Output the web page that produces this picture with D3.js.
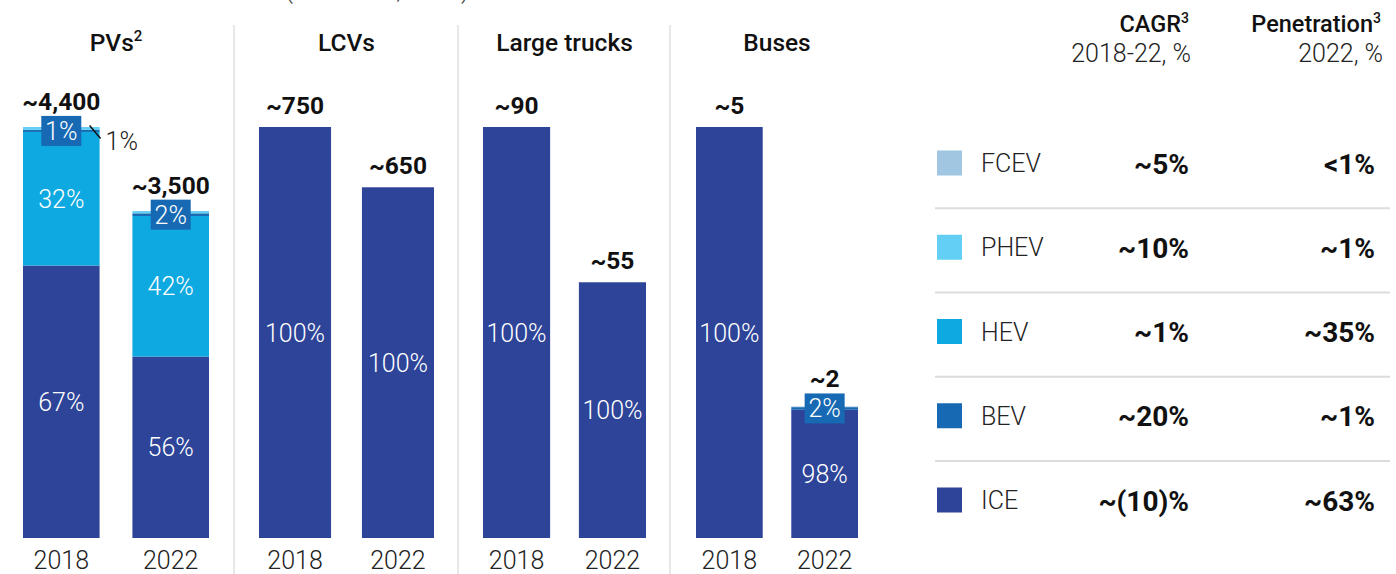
<!DOCTYPE html>
<html>
<head>
<meta charset="utf-8">
<script src="https://cdn.jsdelivr.net/npm/d3@7"></script>
<style>
  body { margin: 0; background: #fff; }
  text { font-family: Roboto, "Noto Sans", sans-serif; }
</style>
</head>
<body>
<script>
// ---- data ----
const groups = ["PVs", "LCVs", "Large trucks", "Buses"];
const groupNotes = ["2", "", "", ""];
const years = ["2018", "2022"];
// sales, '000 units (bar heights)
const totals = [[4400, 3500], [750, 640], [90, 56], [5, 1.6]];
const totalLabels = [["~4,400", "~3,500"], ["~750", "~650"], ["~90", "~55"], ["~5", "~2"]];
// stack order, bottom up
const powertrains = ["ICE", "HEV", "BEV", "PHEV", "FCEV"];
// share of each bar in %, same order as powertrains
const shares = [
  [[66.3, 32.5, 0.5, 0.7, 0], [55.5, 43.0, 0.8, 0.7, 0]],
  [[100, 0, 0, 0, 0], [100, 0, 0, 0, 0]],
  [[100, 0, 0, 0, 0], [100, 0, 0, 0, 0]],
  [[100, 0, 0, 0, 0], [97.5, 0, 2.0, 0, 0.5]]
];
const shareLabels = [
  [["67%", "32%", "1%", "1%", ""], ["56%", "42%", "2%", "", ""]],
  [["100%", "", "", "", ""], ["100%", "", "", "", ""]],
  [["100%", "", "", "", ""], ["100%", "", "", "", ""]],
  [["100%", "", "", "", ""], ["98%", "", "2%", "", ""]]
];
// table on the right
const legendOrder = ["FCEV", "PHEV", "HEV", "BEV", "ICE"];
const cagr = ["~5%", "~10%", "~1%", "~20%", "~(10)%"];
const penetration = ["<1%", "~1%", "~35%", "~1%", "~63%"];

const colors = {ICE: "#2d4499", HEV: "#0fa9e1", BEV: "#1769b3", PHEV: "#64cff4", FCEV: "#a0c6e1"};

const W = 1396, H = 574;
const svg = d3.select("body").append("svg").attr("width", W).attr("height", H);

// cut-off subtitle at the very top
svg.append("text").attr("x", 285).attr("y", -2)
  .attr("font-size", 25).attr("font-weight", 300).attr("fill", "#333")
  .text("(thousand, units)");

// each panel: bar range in px
const panelRanges = [[23, 209], [259, 434], [483, 646], [696, 858]];
const separators = [234, 458, 670];
const baseY = 538, topY = 127;
const fs = 25; // light label size

svg.selectAll(".sep").data(separators).enter().append("line")
  .attr("x1", d => d).attr("x2", d => d).attr("y1", 25).attr("y2", H)
  .attr("stroke", "#d9d9d9").attr("stroke-width", 1.2);

groups.forEach((g, gi) => {
  const x = d3.scaleBand().domain(years).range(panelRanges[gi]).paddingInner(0.3).paddingOuter(0);
  const y = d3.scaleLinear().domain([0, d3.max(totals[gi])]).range([baseY, topY]);
  const gp = svg.append("g");

  // header
  const ht = gp.append("text")
    .attr("x", (panelRanges[gi][0] + panelRanges[gi][1]) / 2).attr("y", 51)
    .attr("text-anchor", "middle").attr("font-size", 24.5).attr("font-weight", 500).attr("fill", "#111");
  ht.append("tspan").text(g);
  if (groupNotes[gi]) ht.append("tspan").attr("font-size", 15).attr("dy", -10).text(groupNotes[gi]);

  // year axis
  const ax = gp.append("g").attr("transform", `translate(0,${baseY})`)
    .call(d3.axisBottom(x).tickSize(0).tickPadding(13));
  ax.select(".domain").remove();
  ax.selectAll("text").attr("font-size", fs).attr("font-weight", 300).attr("fill", "#222")
    .attr("font-family", "Roboto, sans-serif");

  years.forEach((yr, yi) => {
    const total = totals[gi][yi];
    const sh = shares[gi][yi];
    const sum = d3.sum(sh);
    let acc = 0;
    const segs = powertrains.map((p, pi) => {
      const s = {p, y0: acc, y1: acc + total * sh[pi] / sum, label: shareLabels[gi][yi][pi]};
      acc = s.y1;
      return s;
    });
    const bx = x(yr), bw = x.bandwidth(), cx = bx + bw / 2;

    gp.selectAll(null).data(segs.filter(s => s.y1 > s.y0)).enter().append("rect")
      .attr("x", bx).attr("width", bw)
      .attr("y", d => y(d.y1)).attr("height", d => y(d.y0) - y(d.y1))
      .attr("fill", d => colors[d.p]);

    let labelTop = y(total) - 13;
    segs.forEach(s => {
      if (!s.label) return;
      const my = (y(s.y0) + y(s.y1)) / 2;
      if (s.p === "BEV") {
        const bwid = 40, bh = 30;
        gp.append("rect").attr("x", cx - bwid / 2).attr("y", my - bh / 2)
          .attr("width", bwid).attr("height", bh).attr("fill", colors.BEV);
        gp.append("text").attr("x", cx).attr("y", my).attr("dy", "0.36em")
          .attr("text-anchor", "middle").attr("font-size", fs).attr("font-weight", 300)
          .attr("fill", "#fff").text(s.label);
        labelTop = Math.min(labelTop, my - bh / 2 - 6);
      } else if (s.p === "PHEV") {
        gp.append("line").attr("x1", bx + bw - 10).attr("y1", my - 3)
          .attr("x2", bx + bw + 1).attr("y2", my + 10)
          .attr("stroke", "#111").attr("stroke-width", 1.5);
        gp.append("text").attr("x", bx + bw + 6).attr("y", my + 22)
          .attr("font-size", fs).attr("font-weight", 300).attr("fill", "#222").text(s.label);
      } else {
        gp.append("text").attr("x", cx).attr("y", my).attr("dy", "0.36em")
          .attr("text-anchor", "middle").attr("font-size", fs).attr("font-weight", 300)
          .attr("fill", "#fff").text(s.label);
      }
    });

    gp.append("text").attr("x", cx).attr("y", labelTop)
      .attr("text-anchor", "middle").attr("font-size", 24.5).attr("font-weight", 700)
      .attr("fill", "#111").text(totalLabels[gi][yi]);
  });
});

// ---- table / legend ----
const tg = svg.append("g");
const rowY = d3.scalePoint().domain(legendOrder).range([163, 500]);
const colCagr = 1189, colPen = 1375;

function header(xr, main, sub) {
  const t = tg.append("text").attr("x", xr).attr("y", 32).attr("text-anchor", "end")
    .attr("font-size", 23.5).attr("font-weight", 500).attr("fill", "#111");
  t.append("tspan").text(main);
  t.append("tspan").attr("font-size", 14).attr("dy", -9).text("3");
  tg.append("text").attr("x", xr + 2).attr("y", 62).attr("text-anchor", "end")
    .attr("font-size", fs).attr("font-weight", 300).attr("fill", "#222").text(sub);
}
header(colCagr, "CAGR", "2018-22, %");
header(colPen + 6, "Penetration", "2022, %");

const step = rowY.step();
tg.selectAll(".rowsep").data(legendOrder.slice(1)).enter().append("line")
  .attr("x1", 935).attr("x2", 1390)
  .attr("y1", d => rowY(d) - step / 2 + 3).attr("y2", d => rowY(d) - step / 2 + 3)
  .attr("stroke", "#dcdcdc").attr("stroke-width", 2);

const rows = tg.selectAll(".row").data(legendOrder).enter().append("g")
  .attr("transform", d => `translate(0,${rowY(d)})`);
rows.append("rect").attr("x", 937).attr("y", -12.5).attr("width", 25).attr("height", 25)
  .attr("fill", d => colors[d]);
rows.append("text").attr("x", 981).attr("dy", "0.36em").attr("font-size", fs)
  .attr("font-weight", 300).attr("fill", "#222").text(d => d);
rows.append("text").attr("x", colCagr).attr("dy", "0.38em").attr("text-anchor", "end")
  .attr("font-family", "Lato, sans-serif").attr("font-size", 28).attr("font-weight", 700)
  .attr("fill", "#111").text((d, i) => cagr[i]);
rows.append("text").attr("x", colPen).attr("dy", "0.38em").attr("text-anchor", "end")
  .attr("font-family", "Lato, sans-serif").attr("font-size", 28).attr("font-weight", 700)
  .attr("fill", "#111").text((d, i) => penetration[i]);
</script>
</body>
</html>
